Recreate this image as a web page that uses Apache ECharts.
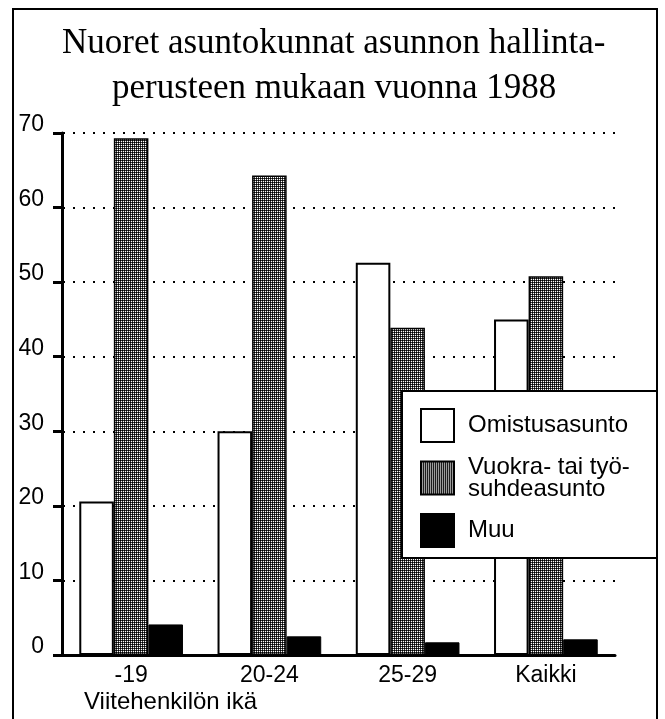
<!DOCTYPE html>
<html>
<head>
<meta charset="utf-8">
<script src="https://cdn.jsdelivr.net/npm/echarts@6/dist/echarts.min.js"></script>
<style>
  html, body { margin: 0; padding: 0; background: #fff; }
  #chart { width: 665px; height: 719px; }
</style>
</head>
<body>
<div id="chart"></div>
<script>
// data
const categories = ['-19', '20-24', '25-29', 'Kaikki'];
const seriesNames = ['Omistusasunto', 'Vuokra- tai työsuhdeasunto', 'Muu'];
const omistus = [20.6, 30.0, 52.6, 45.0];
const vuokra = [69.3, 64.3, 43.9, 50.8];
const muu = [4.1, 2.5, 1.7, 2.1];
const yTicks = [0, 10, 20, 30, 40, 50, 60, 70];

// dotted raster for the rented series
function makePattern() {
    let c = document.createElement('canvas');
    c.width = 2;
    c.height = 2;
    let ctx = c.getContext('2d');
    ctx.fillStyle = '#3a3a3a';
    ctx.fillRect(0, 0, 2, 2);
    ctx.fillStyle = '#000';
    ctx.fillRect(0, 0, 1, 1);
    ctx.fillStyle = '#fff';
    ctx.fillRect(1, 1, 1, 1);
    return c;
}

const sans = 'Liberation Sans, Arial, sans-serif';
const serif = 'Liberation Serif, Times New Roman, serif';

let chart = echarts.init(document.getElementById('chart'), null, { renderer: 'canvas' });

let option = {
    backgroundColor: '#fff',
    animation: false,
    title: [
        {
            text: 'Nuoret asuntokunnat asunnon hallinta-',
            left: 62, top: 26, padding: 0,
            textStyle: { fontFamily: serif, fontSize: 35, fontWeight: 'normal', color: '#000' }
        },
        {
            text: 'perusteen mukaan vuonna 1988',
            left: 112, top: 71, padding: 0,
            textStyle: { fontFamily: serif, fontSize: 35, fontWeight: 'normal', color: '#000' }
        },
        {
            text: 'Viitehenkilön ikä',
            left: 84, top: 690, padding: 0,
            textStyle: { fontFamily: sans, fontSize: 24, fontWeight: 'normal', color: '#000' }
        }
    ],
    graphic: [
        {
            type: 'rect', z: 0,
            shape: { x: 13, y: 9, width: 644, height: 730 },
            style: { fill: 'none', stroke: '#000', lineWidth: 2 }
        },
        {
            type: 'rect', z: 50,
            shape: { x: 402, y: 391, width: 255, height: 167 },
            style: { fill: '#fff', stroke: '#000', lineWidth: 2 }
        }
    ],
    legend: {
        orient: 'vertical',
        left: 420, top: 408,
        z: 60,
        padding: 0,
        selectedMode: false,
        icon: 'rect',
        itemWidth: 33, itemHeight: 33, itemGap: 12,
        data: seriesNames,
        formatter: function (name) {
            return name === seriesNames[1] ? 'Vuokra- tai työ-\nsuhdeasunto' : name;
        },
        textStyle: { fontFamily: sans, fontSize: 24, lineHeight: 22, color: '#000', padding: [0, 0, 0, 9] }
    },
    grid: { left: 62, right: 50, top: 133, bottom: 64, containLabel: false },
    xAxis: {
        type: 'category',
        data: categories,
        axisLine: { show: true, lineStyle: { color: '#000', width: 3 } },
        axisTick: { show: false },
        axisLabel: { fontFamily: sans, fontSize: 23, color: '#000', margin: 9 },
        splitLine: { show: false }
    },
    yAxis: {
        type: 'value',
        min: yTicks[0], max: yTicks[yTicks.length - 1], interval: 10,
        axisLine: { show: true, lineStyle: { color: '#000', width: 3 } },
        axisTick: { show: true, length: 9, lineStyle: { color: '#000', width: 3 } },
        axisLabel: { fontFamily: sans, fontSize: 23, color: '#000', margin: 18, verticalAlign: 'bottom', lineHeight: 16 },
        splitLine: { show: true, lineStyle: { color: '#000', width: 2, type: [2, 8], dashOffset: -1 } }
    },
    series: [
        {
            name: seriesNames[0], type: 'bar', data: omistus,
            barGap: '0%', barCategoryGap: '25%',
            itemStyle: { color: '#fff', borderColor: '#000', borderWidth: 2 }
        },
        {
            name: seriesNames[1], type: 'bar', data: vuokra,
            itemStyle: { color: { image: makePattern(), repeat: 'repeat' }, borderColor: '#000', borderWidth: 1.5 }
        },
        {
            name: seriesNames[2], type: 'bar', data: muu,
            itemStyle: { color: '#000', borderColor: '#000', borderWidth: 1 }
        }
    ]
};

chart.setOption(option);
</script>
</body>
</html>
